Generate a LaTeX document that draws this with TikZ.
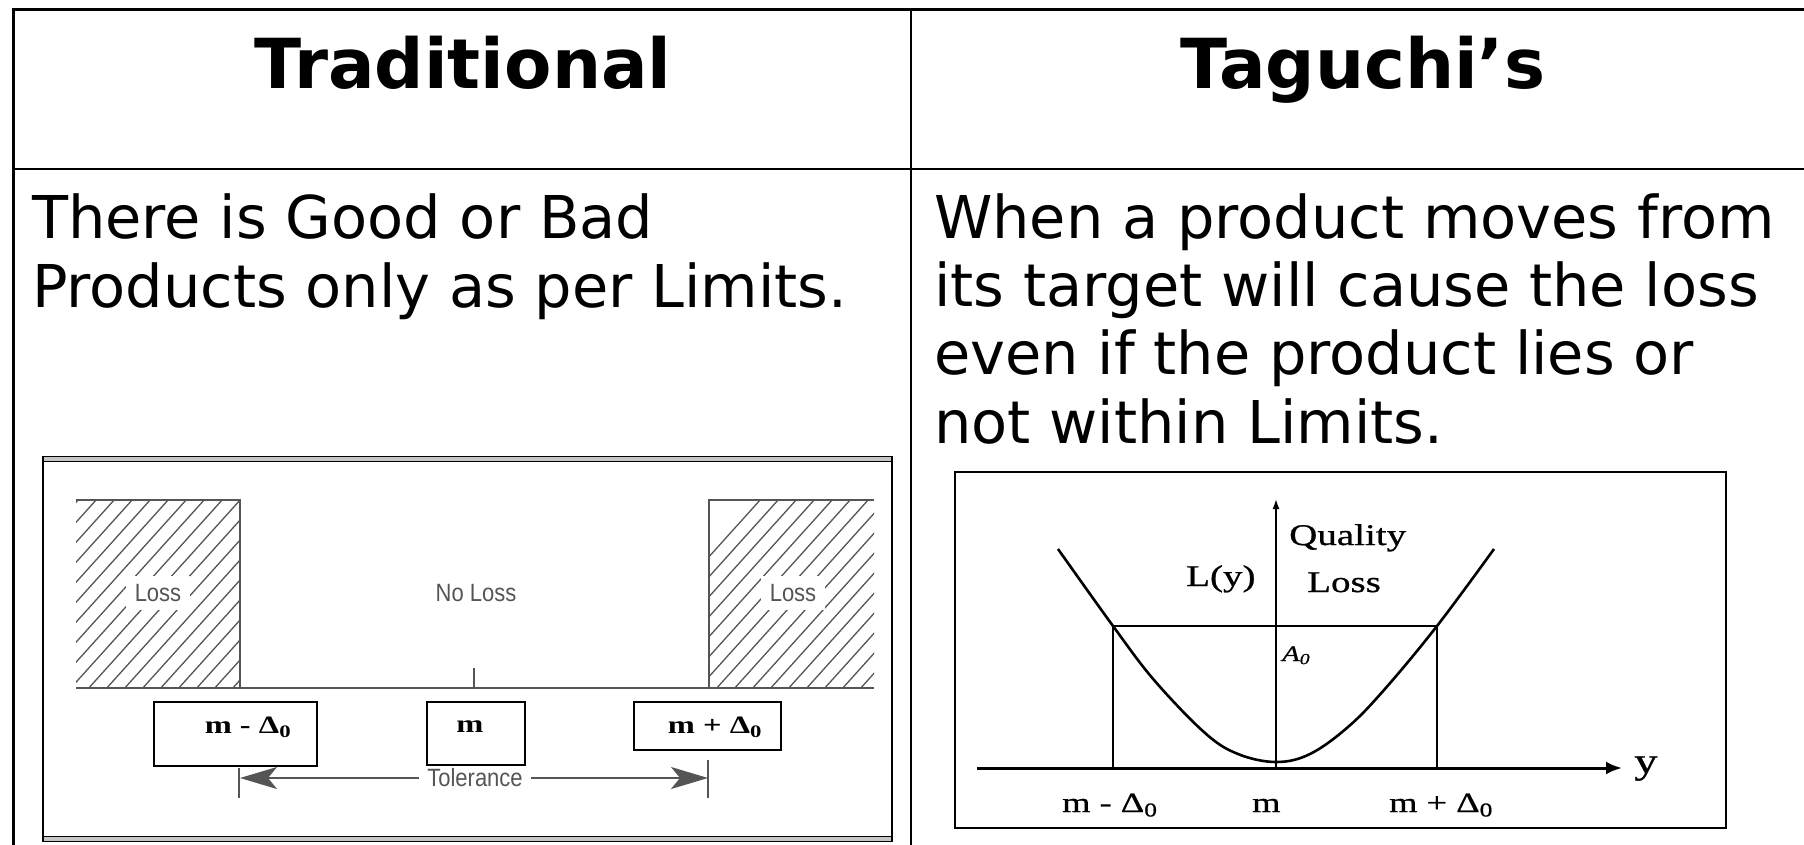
\documentclass[tikz,border=0pt]{standalone}
\usepackage{fontspec}
\setmainfont{DejaVu Sans}
\newfontfamily\arlfont[FakeStretch=0.88]{Liberation Sans}
\newfontfamily\tmsfont[FakeStretch=1.3]{Liberation Serif}
\newfontfamily\tmsdark[FakeStretch=1.3,FakeBold=0.8]{Liberation Serif}
\usetikzlibrary{arrows.meta}
\definecolor{figgray}{HTML}{555555}
\begin{document}
\begin{tikzpicture}[x=1pt,y=-1pt,
  hd/.style={font=\fontsize{69}{80}\selectfont\bfseries, inner sep=0pt, anchor=base},
  body/.style={font=\fontsize{59}{69}\selectfont, inner sep=0pt, anchor=base west},
  gline/.style={draw=figgray, line width=2.4pt},
  hatch/.style={draw=figgray, line width=1.3pt},
  glabel/.style={font=\arlfont\fontsize{25}{28}\selectfont, text=figgray, inner sep=0pt},
  mbox/.style={draw=black, line width=2pt},
  mlabel/.style={font=\tmsfont\bfseries\fontsize{25}{28}\selectfont, inner sep=0pt},
  serif/.style={font=\tmsdark\fontsize{30}{34}\selectfont, inner sep=0pt, anchor=base west},
  curve/.style={line width=2.6pt, line join=round},
  thinax/.style={line width=1.6pt}
]
\useasboundingbox (0,0) rectangle (1804,845);

% ---------- table ----------
\draw[line width=3.5pt] (11.5,9.5) -- (1804,9.5);
\draw[line width=3pt] (13,8) -- (13,845);
\draw[line width=2.5pt] (13,169) -- (1804,169);
\draw[line width=2.5pt] (911,9.5) -- (911,845);

\node[hd] (hleft) at (463,89) {Traditional};
\node[hd] (hright) at (1363,89) {Taguchi’s};

\node[body] (l1) at (32,238) {There is Good or Bad};
\node[body] (l2) at (32,307) {Products only as per Limits.};
\node[body] (r1) at (934,238) {When a product moves from};
\node[body] (r2) at (934,306) {its target will cause the loss};
\node[body] (r3) at (934,374) {even if the product lies or};
\node[body] (r4) at (934,443) {not within Limits.};

% ---------- left figure ----------
\draw[line width=6pt, gray!45] (43,459) -- (892,459);
\draw[line width=1.6pt] (43,456.5) -- (892,456.5);
\draw[line width=1.6pt] (43,461.5) -- (892,461.5);
\draw[line width=6pt, gray!45] (43,839) -- (892,839);
\draw[line width=1.6pt] (43,836.5) -- (892,836.5);
\draw[line width=1.6pt] (43,841.5) -- (892,841.5);
\draw[line width=2pt] (43,456) -- (43,842);
\draw[line width=2pt] (892,456) -- (892,842);

\begin{scope}
\clip (76,500) rectangle (240,688);
\foreach \x in {-120,-102,...,250} \draw[hatch] (\x,700) -- ++(180.1,-200);
\end{scope}
\begin{scope}
\clip (709,500) rectangle (874,688);
\foreach \x in {580,598,...,890} \draw[hatch] (\x,700) -- ++(180.1,-200);
\end{scope}
\node[glabel, fill=white, inner xsep=9pt, inner ysep=8pt] (lossL) at (158,593) {Loss};
\node[glabel, fill=white, inner xsep=9pt, inner ysep=8pt] (lossR) at (793,593) {Loss};
\node[glabel] (noloss) at (476,593) {No Loss};

\draw[gline] (76,500) -- (240,500) -- (240,688);
\draw[gline] (874,500) -- (709,500) -- (709,688);
\draw[gline] (76,688) -- (874,688);
\draw[draw=figgray, line width=1.2pt] (474,668) -- (474,688);

\draw[mbox] (154,702) rectangle (317,766);
\draw[mbox] (427,702) rectangle (525,765);
\draw[mbox] (634,702) rectangle (781,750);
\node[mlabel] (bl1) at (248,727) {m - Δ\textsubscript{0}};
\node[mlabel] (bl2) at (470,727) {m};
\node[mlabel] (bl3) at (715,727) {m + Δ\textsubscript{0}};

\draw[draw=figgray, line width=1.2pt] (239,768) -- (239,798);
\draw[draw=figgray, line width=1.2pt] (708,760) -- (708,798);
\coordinate (tolL) at (240,778);
\coordinate (tolR) at (708,778);
\node[glabel, fill=white, inner xsep=8pt, inner ysep=2pt] (tol) at (475,778) {Tolerance};
\draw[draw=figgray, line width=2pt, -{Stealth[length=37pt,width=22pt,inset=9pt]}] (tol) -- (tolL);
\draw[draw=figgray, line width=2pt, -{Stealth[length=37pt,width=22pt,inset=9pt]}] (tol) -- (tolR);

% ---------- right figure ----------
\draw[line width=2.2pt] (955,472) rectangle (1726,828);
\coordinate (xa0) at (977,768);
\coordinate (xa1) at (1622,768);
\coordinate (ya0) at (1276,768);
\coordinate (ya1) at (1276,499);
\draw[line width=3pt, -{Latex[length=16pt,width=13pt]}] (xa0) -- (xa1);
\draw[thinax, -{Latex[length=10pt,width=7pt]}] (ya0) -- (ya1);
\coordinate (pl) at (1113,626);
\coordinate (pr) at (1437,626);
\draw[line width=2.2pt] (pl) -- (pr);
\draw[thinax] (pl) -- (1113,768);
\draw[thinax] (pr) -- (1437,768);
\draw[curve] plot[smooth, tension=0.6] coordinates {(1058,549) (1113,626) (1154,680) (1205,733) (1238,754) (1276,762) (1310,754) (1348,727) (1384,690) (1437,626) (1494,549)};

\node[serif] (qual) at (1289,545) {Quality};
\node[serif] (qloss) at (1307,592) {Loss};
\node[serif] (ly) at (1186,586) {L(y)};
\node[font=\tmsdark\itshape\fontsize{22}{24}\selectfont, inner sep=0pt, anchor=base west] (a0) at (1282,661) {A\textsubscript{0}};
\node[serif, font=\tmsdark\fontsize{28}{30}\selectfont] (t1) at (1062,812) {m - Δ\textsubscript{0}};
\node[serif, font=\tmsdark\fontsize{28}{30}\selectfont] (t2) at (1252,812) {m};
\node[serif, font=\tmsdark\fontsize{28}{30}\selectfont] (t3) at (1389,812) {m + Δ\textsubscript{0}};
\node[serif, font=\tmsdark\fontsize{36}{38}\selectfont] (yl) at (1634,773) {y};
\end{tikzpicture}
\end{document}
